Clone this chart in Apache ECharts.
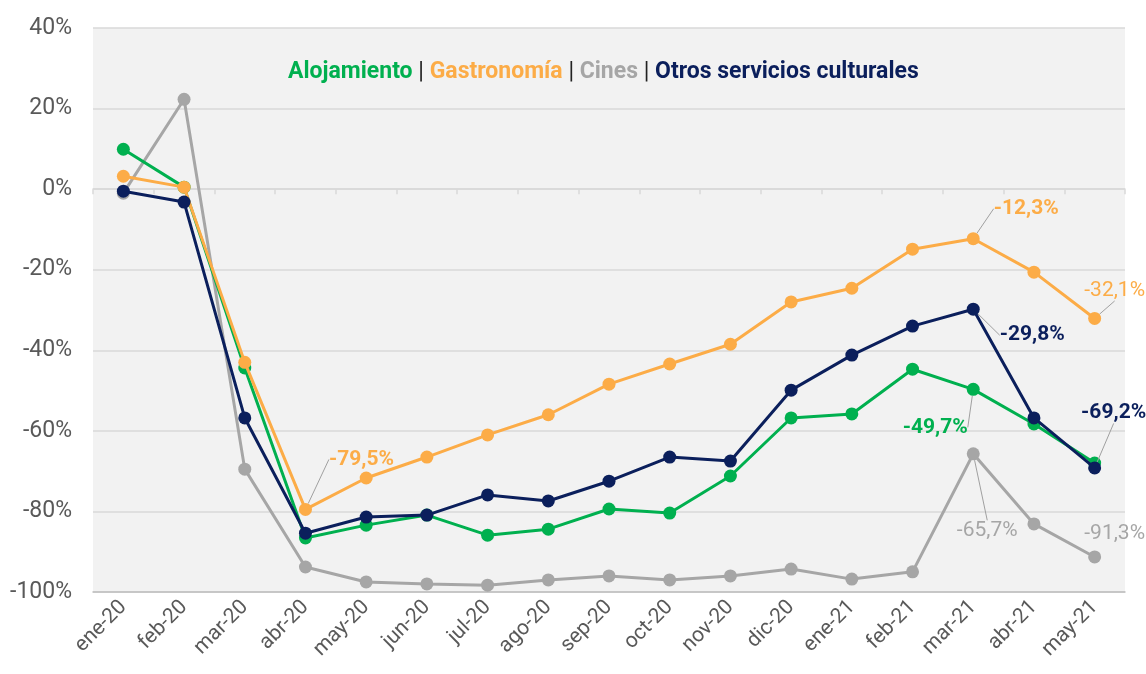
<!DOCTYPE html>
<html><head><meta charset="utf-8">
<script src="https://cdn.jsdelivr.net/npm/echarts@6/dist/echarts.min.js"></script>
<style>html,body{margin:0;padding:0;background:#fff}#c{width:1146px;height:674px}</style>
</head><body><div id="c"></div>
<script>
const categories = ['ene-20','feb-20','mar-20','abr-20','may-20','jun-20','jul-20','ago-20','sep-20','oct-20','nov-20','dic-20','ene-21','feb-21','mar-21','abr-21','may-21'];
const alojamiento = [9.9, 0.5, -44.4, -86.6, -83.4, -80.9, -85.9, -84.4, -79.4, -80.4, -71.2, -56.8, -55.8, -44.7, -49.7, -58.3, -68.0];
const gastronomia = [3.2, 0.5, -43.0, -79.5, -71.7, -66.5, -61.0, -56.0, -48.4, -43.4, -38.5, -28.0, -24.6, -14.9, -12.3, -20.6, -32.1];
const cines = [-1.0, 22.3, -69.5, -93.8, -97.5, -98.0, -98.3, -97.0, -96.0, -97.0, -96.0, -94.3, -96.8, -95.0, -65.7, -83.1, -91.3];
const otros = [-0.5, -3.2, -56.8, -85.4, -81.4, -80.9, -75.9, -77.4, -72.5, -66.5, -67.5, -49.9, -41.2, -34.0, -29.8, -56.8, -69.2];
const yTicks = [-100, -80, -60, -40, -20, 0, 20, 40];

// labelled points: series -> {dataIndex: [dx, dy, bold, leaderLine]}
const labelled = {
  'Alojamiento': {14: [-38, 60, true, true]},
  'Gastronomía': {3: [56, -28, true, true], 14: [53, -8, true, true], 16: [20, -6, false, true]},
  'Cines': {14: [14, 99, false, true], 16: [20, -1, false, false]},
  'Otros servicios culturales': {14: [59, 48, true, true], 16: [19, -33, true, true]}
};
const colors = {
  'Alojamiento': '#00b04f',
  'Gastronomía': '#fcac47',
  'Cines': '#a6a6a6',
  'Otros servicios culturales': '#0b1f5c'
};
const fmt = v => (v.toFixed(1).replace('.', ',')) + '%';

function makeSeries(name, values, z) {
  const lab = labelled[name];
  const data = values.map((v, i) => {
    const d = lab[i];
    if (!d) return v;
    return {
      value: v,
      label: {show: true, fontWeight: d[2] ? 'bold' : 'normal'},
      labelLine: {show: d[3], lineStyle: {color: '#a0a0a0', width: 1}}
    };
  });
  return {
    name, type: 'line', data, z,
    xAxisIndex: 0,
    symbol: 'circle', symbolSize: 13,
    lineStyle: {width: 3, color: colors[name]},
    itemStyle: {color: colors[name]},
    emphasis: {disabled: true},
    label: {
      show: false,
      formatter: p => fmt(p.value),
      color: colors[name],
      fontFamily: 'Roboto', fontSize: 21
    },
    labelLine: {show: false},
    labelLayout: function (p) {
      const d = lab[p.dataIndex];
      if (!d) return {};
      return {dx: d[0], dy: d[1]};
    }
  };
}

const chart = echarts.init(document.getElementById('c'), null, {renderer: 'canvas'});
const rs = (c, w) => ({color: c, fontWeight: w, fontSize: 23, fontFamily: 'Roboto'});
chart.setOption({
  animation: false,
  backgroundColor: '#fff',
  title: {
    left: 283, top: 56,
    text: '{a|Alojamiento} {p||} {b|Gastronomía} {p||} {c|Cines} {p||} {d|Otros servicios culturales}',
    textStyle: {
      fontFamily: 'Roboto', fontSize: 23,
      rich: {
        a: rs(colors['Alojamiento'], 'bold'),
        b: rs(colors['Gastronomía'], 'bold'),
        c: rs(colors['Cines'], 'bold'),
        d: rs(colors['Otros servicios culturales'], 'bold'),
        p: rs('#222', 'normal')
      }
    }
  },
  grid: {left: 93, right: 21, top: 28, bottom: 82, show: true, backgroundColor: '#f2f2f2', borderWidth: 0},
  xAxis: [{
    type: 'category', data: categories, boundaryGap: true,
    axisLine: {onZero: true, lineStyle: {color: '#d9d9d9', width: 1.5}},
    axisTick: {show: true, length: 5, alignWithLabel: false, lineStyle: {color: '#d9d9d9', width: 1.5}},
    axisLabel: {show: false}
  }, {
    type: 'category', data: categories, boundaryGap: true, position: 'bottom',
    axisLine: {onZero: false, lineStyle: {color: '#bfbfbf', width: 1.5}},
    axisTick: {show: false},
    axisLabel: {rotate: 45, color: '#595959', fontFamily: 'Roboto', fontSize: 21, margin: 12, interval: 0}
  }],
  yAxis: {
    type: 'value', min: -100, max: 40, interval: 20,
    axisLine: {show: false}, axisTick: {show: false},
    splitLine: {lineStyle: {color: '#d9d9d9', width: 1.5}},
    axisLabel: {formatter: v => yTicks.includes(v) ? v + '%' : '', color: '#595959', fontFamily: 'Roboto', fontSize: 23, margin: 21}
  },
  series: [
    makeSeries('Cines', cines, 2),
    makeSeries('Alojamiento', alojamiento, 3),
    makeSeries('Gastronomía', gastronomia, 4),
    makeSeries('Otros servicios culturales', otros, 5)
  ]
});
</script></body></html>
